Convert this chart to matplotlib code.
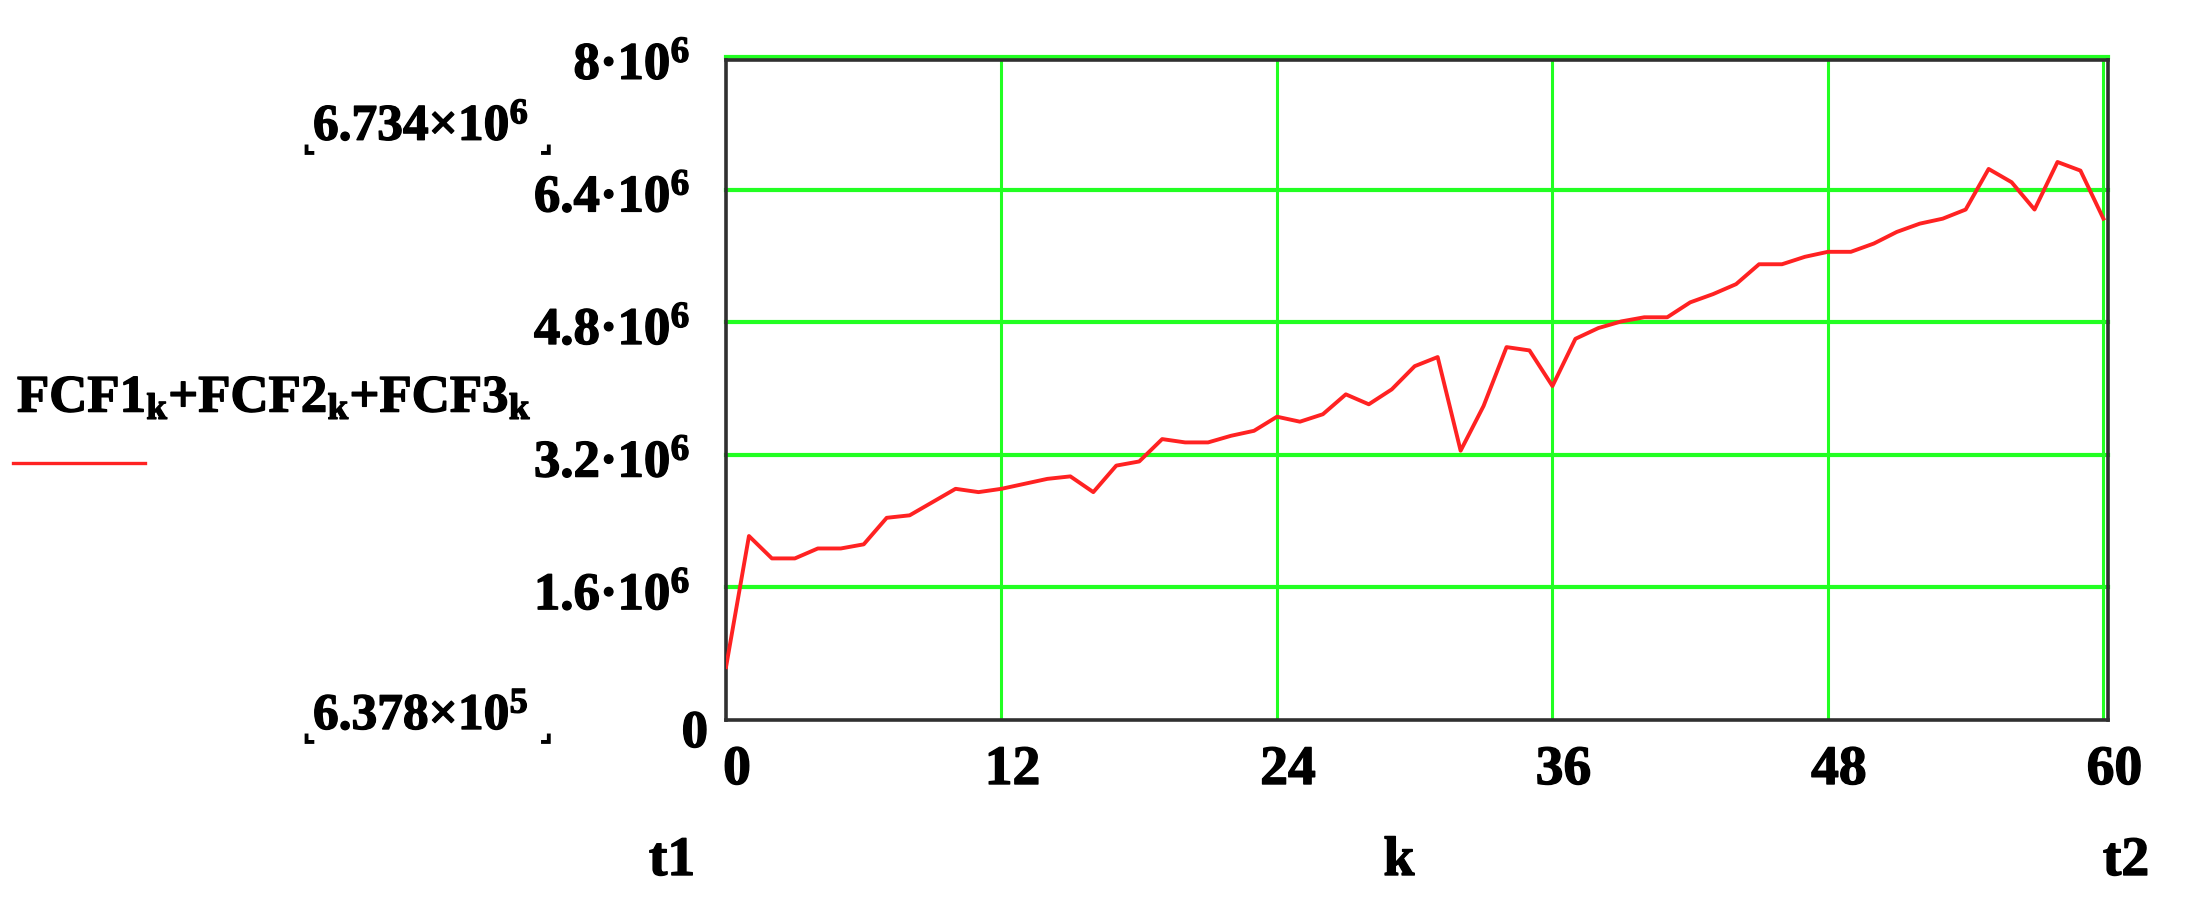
import matplotlib
matplotlib.use("Agg")
import matplotlib.pyplot as plt
import matplotlib.patheffects as pe

plt.rcParams['font.family'] = ['Liberation Serif', 'DejaVu Sans']
plt.rcParams['font.weight'] = 'bold'
plt.rcParams['mathtext.fontset'] = 'custom'
plt.rcParams['mathtext.rm'] = 'Liberation Serif:bold'
plt.rcParams['mathtext.bf'] = 'Liberation Serif:bold'
plt.rcParams['mathtext.it'] = 'Liberation Serif:bold'
plt.rcParams['mathtext.default'] = 'bf'

# data (k = 0..60)
k = list(range(61))
fcf_sum = [0.6378e6, 2.22e6, 1.95e6, 1.95e6, 2.07e6, 2.07e6, 2.12e6, 2.44e6, 2.47e6, 2.63e6,
           2.79e6, 2.75e6, 2.79e6, 2.85e6, 2.91e6, 2.94e6, 2.75e6, 3.07e6, 3.12e6, 3.39e6,
           3.35e6, 3.35e6, 3.43e6, 3.49e6, 3.66e6, 3.60e6, 3.69e6, 3.93e6, 3.81e6, 3.99e6,
           4.27e6, 4.38e6, 3.25e6, 3.79e6, 4.50e6, 4.46e6, 4.03e6, 4.60e6, 4.73e6, 4.81e6,
           4.86e6, 4.86e6, 5.04e6, 5.14e6, 5.26e6, 5.50e6, 5.50e6, 5.59e6, 5.65e6, 5.65e6,
           5.75e6, 5.89e6, 5.99e6, 6.05e6, 6.16e6, 6.65e6, 6.49e6, 6.16e6, 6.734e6, 6.63e6,
           6.05e6]

xticks = [0, 12, 24, 36, 48, 60]
xlabels = ['0', '12', '24', '36', '48', '60']
yticks = [0, 1.6e6, 3.2e6, 4.8e6, 6.4e6, 8e6]
ylabels = ['0', '1.6·10$^{6}$', '3.2·10$^{6}$', '4.8·10$^{6}$', '6.4·10$^{6}$', '8·10$^{6}$']
ymax_label = '6.734×10$^{6}$'
ymin_label = '6.378×10$^{5}$'
legend_label = 'FCF1$_{k}$+FCF2$_{k}$+FCF3$_{k}$'

green = '#22ff22'
red = '#ff2222'
W, H = 2190, 903
heavy = [pe.withStroke(linewidth=1.0, foreground='black')]

fig = plt.figure(figsize=(W / 100, H / 100), dpi=100)
ax = fig.add_axes([726 / W, 1 - 721 / H, (2108 - 726) / W, (721 - 61.4) / H])
ax.set_xlim(0, 60.2)
ax.set_ylim(0, 7.96e6)

# grid
for v in yticks[1:]:
    ax.axhline(v, color=green, lw=3.0, zorder=1, clip_on=False)
for t in xticks[1:]:
    ax.axvline(t, color=green, lw=2.2, zorder=1)

ax.plot(k, fcf_sum, color=red, lw=2.8, zorder=3)

for s in ax.spines.values():
    s.set_color('#303030')
    s.set_linewidth(2.6)
ax.set_xticks([])
ax.set_yticks([])

# tick labels
for v, lab in zip(yticks, ylabels):
    dx = -18 if v == 0 else -36
    dy = -27 if v == 0 else -22
    ax.annotate(lab, xy=(0, v), xycoords=ax.get_yaxis_transform(),
                xytext=(dx, dy), textcoords='offset pixels',
                ha='right', va='baseline', fontsize=38, annotation_clip=False,
                path_effects=heavy)
for t, lab in zip(xticks, xlabels):
    ax.annotate(lab, xy=(t, 0), xycoords=ax.get_xaxis_transform(),
                xytext=(11, -64), textcoords='offset pixels',
                ha='center', va='baseline', fontsize=40, annotation_clip=False,
                path_effects=heavy)

# Mathcad limit labels with corner marks
for lab, base in [(ymax_label, 141), (ymin_label, 730)]:
    fig.text(313 / W, 1 - base / H, lab, ha='left', va='baseline', fontsize=37,
             path_effects=heavy)
    fig.text(301 / W, 1 - (base + 10) / H, '⌞', ha='left', va='baseline',
             fontsize=22, family='DejaVu Sans', fontweight='bold')
    fig.text(553 / W, 1 - (base + 10) / H, '⌟', ha='right', va='baseline',
             fontsize=22, family='DejaVu Sans', fontweight='bold')

# legend
fig.text(17 / W, 1 - 413 / H, legend_label, ha='left', va='baseline', fontsize=38,
         path_effects=heavy)
fig.add_artist(plt.Line2D([13 / W, 145 / W], [1 - 464 / H, 1 - 464 / H],
                          color=red, lw=2.4, transform=fig.transFigure))

# axis variable names
for xpix, lab in [(672, 't1'), (1399, 'k'), (2126, 't2')]:
    fig.text(xpix / W, 1 - 862 / H, lab, ha='center', va='center', fontsize=40,
             path_effects=heavy)

fig.savefig('out.png', dpi=100, facecolor='white')
